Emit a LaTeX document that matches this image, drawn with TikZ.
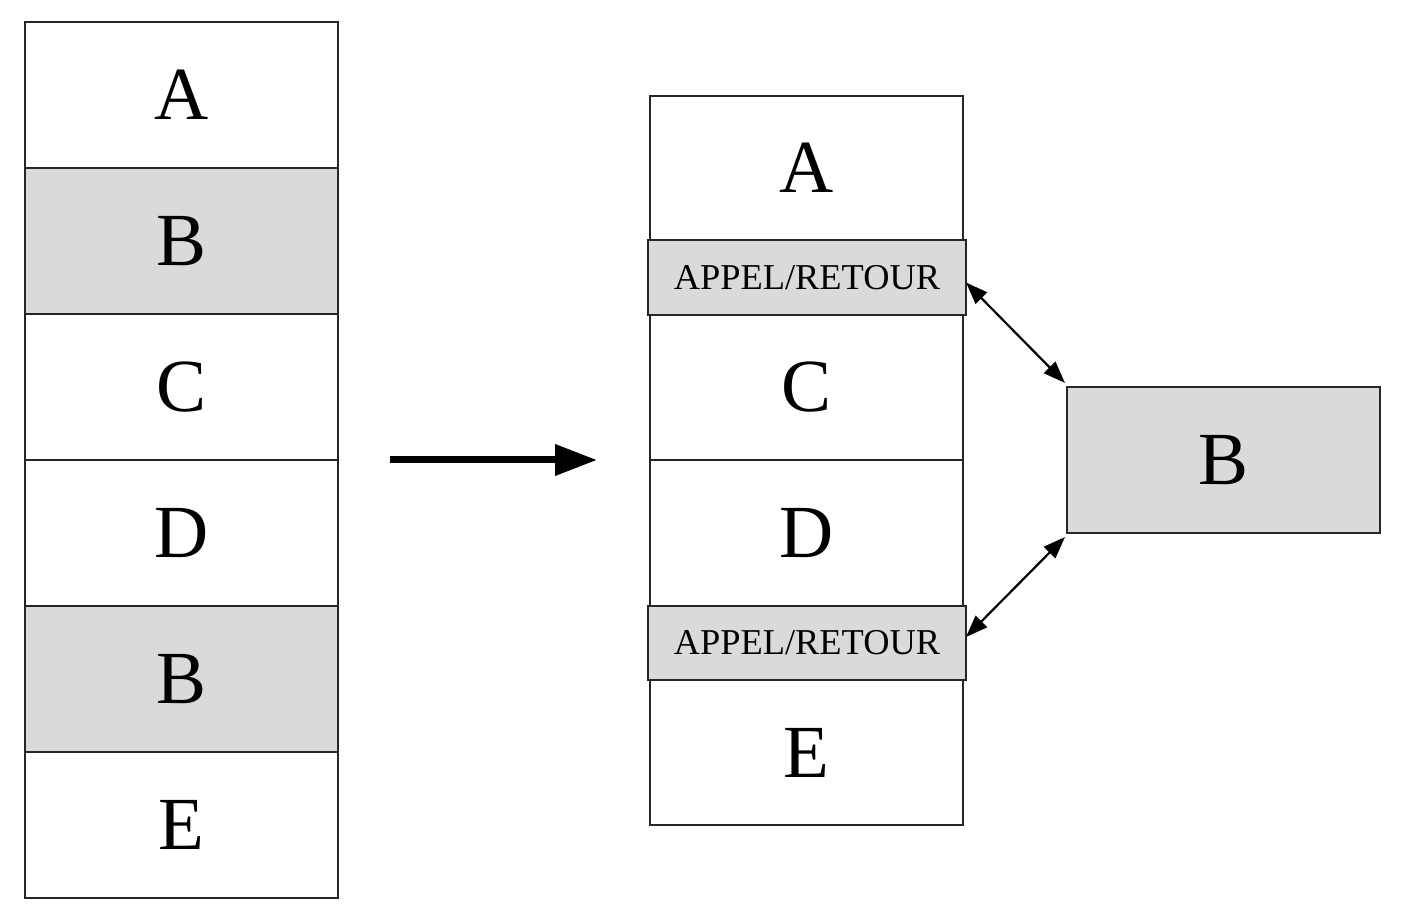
\documentclass[tikz,border=0pt]{standalone}
\usepackage{fontspec}
\setmainfont{Liberation Serif}
\usetikzlibrary{arrows.meta}
\definecolor{boxgray}{HTML}{DADADA}
\begin{document}
\begin{tikzpicture}[x=0.5pt,y=-0.5pt,
  cell/.style={draw=black!85,line width=1.2pt,fill=white,inner sep=0pt,outer sep=0pt,
    minimum width=156.5pt,minimum height=73pt,font=\fontsize{37.5}{40}\selectfont},
  grey/.style={fill=boxgray},
  callbox/.style={draw=black!85,line width=1.3pt,fill=boxgray,inner sep=0pt,outer sep=0pt,
    minimum width=159pt,minimum height=37.5pt,font=\fontsize{18.2}{20}\selectfont},
  dbl/.style={line width=1.1pt,{Triangle[length=11pt,width=8pt]}-{Triangle[length=11pt,width=8pt]}},
  big/.style={line width=3.5pt,-{Triangle[length=21pt,width=15pt]}}]
\useasboundingbox (0,0) rectangle (1410,914);
% left column
\node[cell] (la) at (181.5,95) {A};
\node[cell,grey] (lb1) at (181.5,241) {B};
\node[cell] (lc) at (181.5,387) {C};
\node[cell] (ld) at (181.5,533) {D};
\node[cell,grey] (lb2) at (181.5,679) {B};
\node[cell] (le) at (181.5,825) {E};
% main arrow
\coordinate (s) at (390,460);
\coordinate (t) at (597,460);
\draw[big] (s) -- (t);
% right column
\node[cell,minimum height=72pt] (ra) at (806.5,168) {A};
\node[cell,minimum height=72.5pt] (rc) at (806.5,387.5) {C};
\node[cell] (rd) at (806.5,533) {D};
\node[cell,minimum height=72.5pt] (re) at (806.5,752.5) {E};
\node[callbox] (ap1) at (807,277.5) {\raisebox{-1.5pt}{APPEL/RETOUR}};
\node[callbox,minimum height=37pt] (ap2) at (807,643) {\raisebox{-1.5pt}{APPEL/RETOUR}};
% B box
\node[cell,grey] (b) at (1223.5,460) {B};
% double arrows
\draw[dbl] ([yshift=-2.5pt]ap1.east) -- ([xshift=-1pt,yshift=2pt]b.north west);
\draw[dbl] ([yshift=3pt]ap2.east) -- ([xshift=-1pt,yshift=-2pt]b.south west);
\end{tikzpicture}
\end{document}
